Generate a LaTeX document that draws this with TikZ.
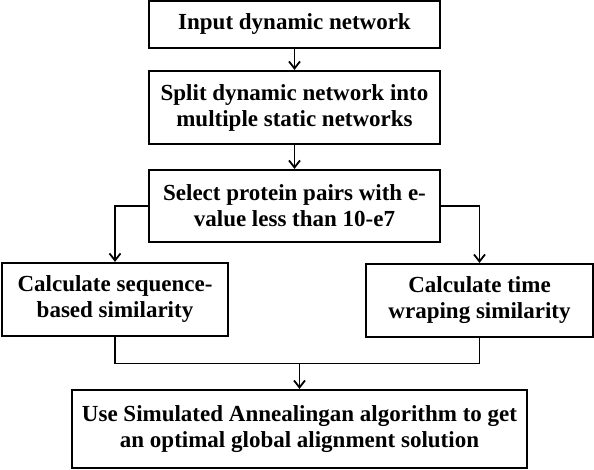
\documentclass[tikz,border=0pt]{standalone}
\usepackage{fontspec}
\setmainfont{Liberation Serif}
\usetikzlibrary{arrows.meta}

\begin{document}
\begin{tikzpicture}[x=1pt,y=-1pt,>={Straight Barb[length=7pt,width=11pt]},
  box/.style={draw,line width=2.2pt,inner sep=0pt,align=center,font=\fontsize{23}{26}\selectfont\bfseries},
  link/.style={line width=1.8pt}]
\useasboundingbox (0,0) rectangle (594,470);
\node[box,minimum width=291pt,minimum height=47pt] (1) at (294.5,24.5) {Input dynamic network};
\node[box,minimum width=291pt,minimum height=73pt] (2) at (294.5,107.5) {Split dynamic network into\\multiple static networks};
\node[box,minimum width=291pt,minimum height=72pt] (3) at (294.5,206) {Select protein pairs with e-\\value less than 10-e7};
\node[box,minimum width=226pt,minimum height=73pt] (4) at (115,299.5) {Calculate sequence-\\based similarity};
\node[box,minimum width=227pt,minimum height=73pt] (5) at (479.5,300.5) {Calculate time\\wraping similarity};
\node[box,minimum width=455pt,minimum height=78pt] (6) at (299.5,429) {Use Simulated Annealingan algorithm to get\\an optimal global alignment solution};
\coordinate (j) at (299.5,363.5);

\path[->,link] (1) edge (2)
      (2) edge (3);
\draw[->,link] (3.west) -| (4);
\draw[->,link] (3.east) -| (5);
\draw[link] (4.south) |- (j)
      (5.south) |- (j);
\draw[->,link] (j) -- (6);

\end{tikzpicture}
\end{document}
